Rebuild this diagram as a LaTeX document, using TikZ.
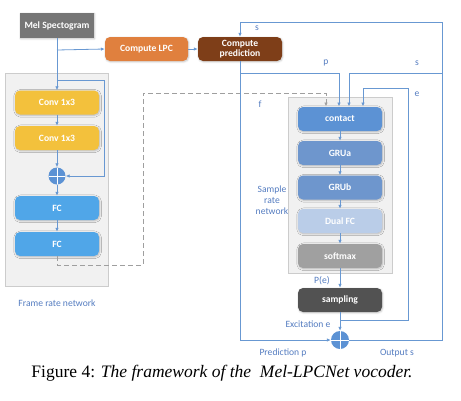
\documentclass[tikz,border=0pt]{standalone}
\usepackage{fontspec}
\setmainfont{Liberation Serif}
\newfontfamily\carlito{Carlito}
\usepackage{tikz}
\usetikzlibrary{arrows.meta, positioning, calc, shadows.blur}
\definecolor{melgray}{RGB}{118, 118, 118}
\definecolor{lpcorange}{RGB}{224, 128, 62}
\definecolor{predbrown}{RGB}{126, 62, 24}
\definecolor{convyellow}{RGB}{243, 193, 60}
\definecolor{fcblue}{RGB}{80, 166, 232}
\definecolor{contactblue}{RGB}{92, 146, 212}
\definecolor{grublue}{RGB}{110, 150, 205}
\definecolor{dualblue}{RGB}{186, 205, 232}
\definecolor{softgray}{RGB}{160, 160, 160}
\definecolor{sampgray}{RGB}{82, 82, 82}
\definecolor{lineblue}{RGB}{104, 152, 210}
\definecolor{txtblue}{RGB}{84, 124, 192}
\definecolor{panelgray}{RGB}{241, 241, 241}

\begin{document}
\begin{tikzpicture}[
    x=1pt, y=-1pt,
    block/.style={rectangle, rounded corners=5pt, minimum width=84pt, minimum height=24pt, inner sep=1pt,
        font=\carlito\fontsize{9.6}{10}\selectfont\bfseries, text=white, align=center,
        blur shadow={shadow blur steps=5, shadow xshift=0.6pt, shadow yshift=-0.8pt, shadow opacity=25}},
    addnode/.style={circle, fill=contactblue, minimum size=17pt, inner sep=0pt,
        path picture={\draw[white, line width=0.6pt] (path picture bounding box.north) -- (path picture bounding box.south)
            (path picture bounding box.west) -- (path picture bounding box.east);}},
    panel/.style={fill=panelgray, draw=gray!40, line width=0.6pt},
    lbl/.style={font=\carlito\fontsize{9.6}{11}\selectfont, text=txtblue, align=center},
    arr/.style={-{Latex[length=4pt, width=3.5pt]}, line width=0.8pt, lineblue},
    ln/.style={line width=0.8pt, lineblue},
    dasharr/.style={-{Latex[length=4pt, width=3.5pt]}, line width=1pt, gray!75, dash pattern=on 5pt off 3pt}
]
\useasboundingbox (0,0) rectangle (461,400);

% ── Panels ──
\draw[panel] (5,73) rectangle (108,286);
\draw[panel] (288,97) rectangle (392,273);

% ── Frame rate network ──
\node[block, rounded corners=0pt, fill=melgray, minimum width=74pt, minimum height=25pt] (mel) at (57,25.5) {Mel Spectogram};
\node[block, fill=convyellow] (conv1) at (57,102.5) {Conv 1x3};
\node[block, fill=convyellow] (conv2) at (57,138) {Conv 1x3};
\node[addnode] (add1) at (57,176) {};
\node[block, fill=fcblue] (fc1) at (57,208) {FC};
\node[block, fill=fcblue] (fc2) at (57,244) {FC};

% ── LPC ──
\node[block, fill=lpcorange, minimum width=83pt] (lpc) at (146.5,49) {Compute LPC};
\node[block, fill=predbrown] (pred) at (240,49) {Compute\\prediction};

% ── Sample rate network ──
\node[block, fill=contactblue] (contact) at (340,119) {contact};
\node[block, fill=grublue] (grua) at (340,153) {GRUa};
\node[block, fill=grublue] (grub) at (340,187.5) {GRUb};
\node[block, fill=dualblue] (dualfc) at (340,221) {Dual FC};
\node[block, fill=softgray] (softmax) at (340,256) {softmax};
\node[block, fill=sampgray] (sampling) at (340,300) {sampling};
\node[addnode, minimum size=18pt] (add2) at (340,340) {};

% Junctions
\coordinate (jlpc) at (57,50);
\coordinate (jskip) at (57,80);
\coordinate (jp) at (240,73);
\coordinate (js) at (442,73);
\coordinate (je) at (340,320);

% Arrows: frame rate network
\draw[arr] (mel) -- (conv1);
\draw[arr] (jlpc) -- (lpc.west);
\draw[arr] (jskip) -- (104,80) -- (104,176) -- (add1);
\draw[arr] (conv1) -- (conv2);
\draw[arr] (conv2) -- (add1);
\draw[arr] (add1) -- (fc1);
\draw[arr] (fc1) -- (fc2);
\draw[arr] (lpc) -- (pred);

% Conditioning f
\draw[dasharr] (fc2.south) -- (57,265) -- (143,265) -- (143,93) -- (326,93) -- (326,106.5);

% Arrows: sample rate network
\draw[arr] (contact) -- (grua);
\draw[arr] (grua) -- (grub);
\draw[arr] (grub) -- (dualfc);
\draw[arr] (dualfc) -- (softmax);
\draw[arr] (softmax) -- (sampling);
\draw[arr] (sampling) -- (add2);

% Feedback p, s, e
\draw[arr] (pred.south) -- (240,340) -- (add2);
\draw[arr] (jp) -- (339,73) -- (339,106.5);
\draw[arr] (add2) -- (442,340) -- (442,22) -- (240,22) -- (pred.north);
\draw[arr] (js) -- (349,73) -- (349,106.5);
\draw[arr] (je) -- (408,320) -- (408,88) -- (363,88) -- (363,106.5);

% Labels
\node[lbl] at (257,28) {s};
\node[lbl] at (326,63) {p};
\node[lbl] at (417,63) {s};
\node[lbl] at (417,94) {e};
\node[lbl] at (260,104) {f};
\node[lbl] at (272,200) {Sample\\rate\\network};
\node[lbl] at (322,281) {P(e)};
\node[lbl] at (308,324) {Excitation e};
\node[lbl] at (283,353) {Prediction p};
\node[lbl] at (397,353) {Output s};
\node[lbl] at (57,303) {Frame rate network};

% Caption
\node[font=\fontsize{17.5}{19}\selectfont] (caption) at (222,373) {Figure 4: \textit{The framework of the\ \ Mel-LPCNet vocoder.}};

\end{tikzpicture}
\end{document}
